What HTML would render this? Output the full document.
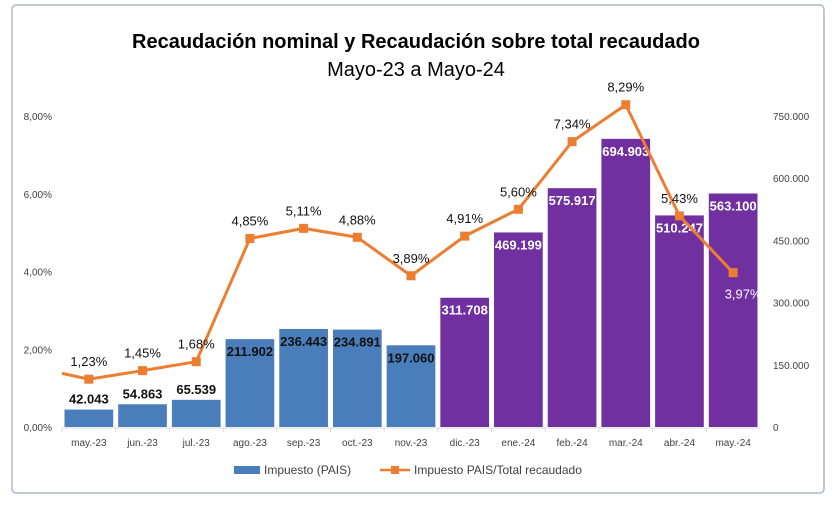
<!DOCTYPE html>
<html><head><meta charset="utf-8"><style>
body{margin:0;background:#fff;font-family:"Liberation Sans",sans-serif;}
svg text{font-family:"Liberation Sans",sans-serif;}
</style></head><body>
<svg id="c" width="832" height="504" viewBox="0 0 832 504" xmlns="http://www.w3.org/2000/svg">
<rect x="12" y="5" width="812" height="488" rx="4" fill="#fff" stroke="#a9bccc" stroke-width="1.5"/>
<text x="416" y="48" text-anchor="middle" font-size="20" font-weight="bold" fill="#000">Recaudación nominal y Recaudación sobre total recaudado</text>
<text x="416" y="76" text-anchor="middle" font-size="20" fill="#000">Mayo-23 a Mayo-24</text>
<g id="axes"></g><g id="bars"></g><g id="line"></g>
<g>
<rect x="234" y="466" width="26" height="8" fill="#4a7ebb"/>
<text x="264" y="474" font-size="12" fill="#404040">Impuesto (PAIS)</text>
<line x1="380" y1="470" x2="410" y2="470" stroke="#ed7d31" stroke-width="2.5"/>
<rect x="391" y="466" width="8" height="8" fill="#ed7d31"/>
<text x="414" y="474" font-size="12" fill="#404040">Impuesto PAIS/Total recaudado</text>
</g>
</svg>
<script>
const categories=["may.-23","jun.-23","jul.-23","ago.-23","sep.-23","oct.-23","nov.-23","dic.-23","ene.-24","feb.-24","mar.-24","abr.-24","may.-24"];
const recaudacion=[42043,54863,65539,211902,236443,234891,197060,311708,469199,575917,694903,510247,563100];
const ratio=[1.23,1.45,1.68,4.85,5.11,4.88,3.89,4.91,5.60,7.34,8.29,5.43,3.97];
const prevRatio=1.38;
const leftTicks=[0,2,4,6,8];
const rightTicks=[0,150000,300000,450000,600000,750000];
const NS="http://www.w3.org/2000/svg";
const x0=62,x1=760,y0=427,yTop=116;
const step=(x1-x0)/categories.length;
const xc=i=>x0+step*(i+0.5);
const yL=v=>y0-(v/8)*(y0-yTop);
const yR=v=>y0-(v/750000)*(y0-yTop);
function mk(t,a,p){const e=document.createElementNS(NS,t);for(const k in a)e.setAttribute(k,a[k]);p.appendChild(e);return e;}
const fmtN=v=>v.toString().replace(/\B(?=(\d{3})+(?!\d))/g,".");
const fmtP=v=>v.toFixed(2).replace(".",",")+"%";
const ax=document.getElementById("axes"),bg=document.getElementById("bars"),lg=document.getElementById("line");
leftTicks.forEach(t=>{const e=mk("text",{x:52,y:yL(t)+4,"text-anchor":"end","font-size":10,fill:"#404040"},ax);e.textContent=fmtP(t);

});
rightTicks.forEach(t=>{const e=mk("text",{x:773,y:yR(t)+4,"font-size":10,fill:"#404040"},ax);e.textContent=t===0?"0":fmtN(t);

});
const base=mk("line",{x1:x0,y1:y0+1,x2:x1,y2:y0+1,stroke:"#d9d9d9"},ax);


categories.forEach((c,i)=>{
const tk=mk("line",{x1:x0+step*i,y1:y0+1,x2:x0+step*i,y2:y0+5,stroke:"#d9d9d9"},ax);


const e=mk("text",{x:xc(i),y:y0+19,"text-anchor":"middle","font-size":10,fill:"#404040"},ax);e.textContent=c;


const purple=i>=7;const w=step-5;const yy=yR(recaudacion[i]);
const b=mk("rect",{x:xc(i)-w/2,y:yy,width:w,height:y0-yy,fill:purple?"#7030a0":"#4a7ebb"},bg);


const inside=recaudacion[i]>150000;
const t=mk("text",{x:xc(i),y:inside?yy+17:yy-6,"text-anchor":"middle","font-size":13,"font-weight":"bold",fill:purple?"#fff":"#111"},bg);t.textContent=fmtN(recaudacion[i]);


});
let d="M"+x0+","+yL(prevRatio-(ratio[0]-prevRatio));
d="M"+x0+","+(yL(prevRatio)+ (yL(ratio[0])-yL(prevRatio))*0.0);
d="M"+x0+","+yL(prevRatio);
ratio.forEach((v,i)=>{d+=" L"+xc(i)+","+yL(v);});
const p=mk("path",{d:d,fill:"none",stroke:"#ed7d31","stroke-width":3,"stroke-linejoin":"round"},lg);


ratio.forEach((v,i)=>{
const m=mk("rect",{x:xc(i)-4.5,y:yL(v)-4.5,width:9,height:9,fill:"#ed7d31"},lg);


const below=i===12;
const t=mk("text",{x:xc(i)+(below?10:0),y:below?yL(v)+26:yL(v)-13,"text-anchor":"middle","font-size":13,fill:below?"#fff":"#111"},lg);t.textContent=fmtP(v);


});
</script>
</body></html>
